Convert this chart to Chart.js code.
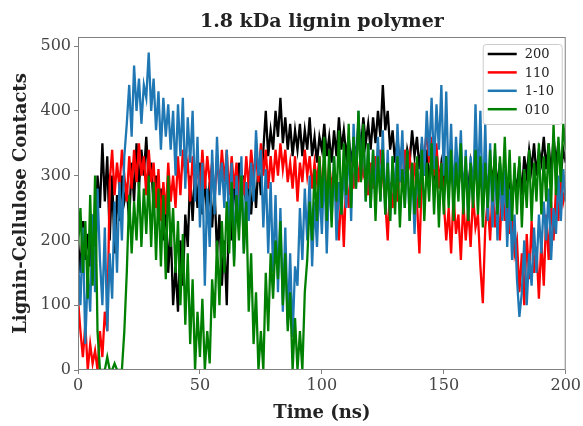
<!DOCTYPE html>
<html>
<head>
<meta charset="utf-8">
<script src="https://cdn.jsdelivr.net/npm/chart.js@4"></script>
<style>
  html, body { margin: 0; padding: 0; background: #fff; }
  #wrap { width: 583px; height: 426px; }
</style>
</head>
<body>
<div id="wrap"><canvas id="contacts-chart"></canvas></div>
<script>
const chartTitle = "1.8 kDa lignin polymer";
const xTicks = [0, 50, 100, 150, 200];
const yTicks = [0, 100, 200, 300, 400, 500];
const seriesLabels = ["200", "110", "1-10", "010"];
const seriesColors = ["#000000", "#ff0000", "#1f77b4", "#008000"];

// one value per ns, t = 0..200
const contacts200 = [
  200,150,230,170,210,160,240,190,300,250,
  350,260,330,200,300,180,270,230,300,260,
  280,230,320,260,350,280,340,300,360,290,
  320,250,300,230,280,200,260,150,220,100,
  160,90,200,130,240,190,300,230,310,250,
  320,240,300,230,290,220,280,180,240,130,
  200,100,260,200,300,240,320,260,300,250,
  290,240,300,250,320,270,340,400,330,370,
  340,400,360,420,350,390,340,380,330,370,
  340,380,330,370,340,390,330,360,320,360,
  340,380,330,360,320,370,330,390,340,370,
  330,360,320,350,330,380,340,390,350,380,
  340,390,350,400,360,440,370,400,340,370,
  320,360,310,350,300,340,320,370,330,360,
  310,350,300,340,290,330,300,340,290,320,
  290,330,280,320,290,330,280,320,290,310,
  280,320,290,330,280,320,270,310,280,320,
  290,330,280,320,250,300,240,290,260,300,
  280,320,270,330,300,340,310,350,300,340,
  320,360,310,350,300,360,320,350,300,340,
  320
];
const contacts110 = [
  110,60,20,70,0,40,10,30,0,60,
  20,90,60,290,340,270,320,280,340,300,
  260,330,280,340,290,350,300,330,270,340,
  290,320,250,310,230,290,240,320,260,300,
  250,330,270,340,300,320,260,330,280,320,
  270,340,280,330,290,320,260,330,280,340,
  290,340,270,330,280,320,260,310,270,330,
  280,340,300,330,290,350,300,340,280,330,
  290,340,300,350,310,340,290,320,280,330,
  260,320,290,340,300,330,280,320,290,330,
  270,330,260,320,280,310,250,200,280,190,
  300,250,320,280,330,290,340,300,310,270,
  320,280,330,290,340,300,260,200,290,250,
  300,260,320,280,340,300,330,290,320,260,
  180,300,330,370,320,360,300,350,280,320,
  260,200,250,180,270,210,240,170,260,200,
  250,190,270,220,240,160,103,220,260,200,
  280,220,260,200,290,230,270,210,240,180,
  200,120,180,100,210,140,230,150,190,110,
  200,130,240,170,260,200,280,230,300,260,
  280
];
const contacts1m10 = [
  170,100,220,40,150,90,240,120,280,170,
  100,220,60,180,110,260,150,290,200,330,
  380,440,360,470,400,450,380,440,420,490,
  400,450,370,430,340,420,360,410,340,400,
  300,410,330,420,280,390,320,400,260,360,
  220,320,130,280,190,340,240,360,270,320,
  250,340,200,320,170,300,220,330,180,290,
  230,320,260,370,300,340,220,310,180,290,
  150,270,120,250,90,220,70,180,51,160,
  130,250,170,280,200,300,160,260,190,290,
  210,320,180,300,230,330,200,290,240,310,
  250,360,230,380,280,400,300,370,260,350,
  250,340,270,360,260,370,240,340,230,330,
  260,380,290,370,250,340,230,320,210,310,
  260,360,300,400,330,420,310,410,340,440,
  300,430,280,380,260,360,290,370,250,340,
  230,330,260,410,280,400,250,380,230,350,
  220,340,200,320,230,310,190,280,170,240,
  140,82,120,200,100,180,130,220,150,240,
  180,260,200,280,170,250,210,300,230,310,
  260
];
const contacts010 = [
  190,250,150,230,110,270,130,300,60,0,
  0,0,20,0,0,10,0,0,0,60,
  150,270,180,260,200,290,190,280,210,300,
  190,290,170,280,160,270,140,300,190,250,
  150,230,100,210,70,180,40,140,0,90,
  20,110,0,60,10,140,80,200,100,230,
  150,260,180,290,160,270,200,300,180,260,
  90,180,40,120,0,60,0,150,60,180,
  110,200,140,230,100,180,60,120,0,80,
  0,60,0,120,170,260,200,310,230,330,
  250,360,230,340,220,330,260,370,240,350,
  270,380,250,360,280,400,290,380,260,350,
  250,340,230,330,260,340,240,320,230,330,
  240,330,220,310,250,340,230,320,240,330,
  250,340,230,320,260,350,240,330,220,320,
  240,330,250,340,230,320,260,350,240,330,
  230,320,250,340,240,330,220,320,250,340,
  260,350,240,330,270,360,250,340,230,320,
  240,330,220,310,250,340,230,320,260,350,
  240,330,260,350,250,380,270,360,290,380,
  340
];

const seriesValues = [contacts200, contacts110, contacts1m10, contacts010];
const timeNs = contacts200.map((_, i) => i);

const serif = "'DejaVu Serif', 'Liberation Serif', serif";

const framePlugin = {
  id: "frame",
  afterDatasetsDraw(chart) {
    const { ctx, chartArea: a } = chart;
    ctx.save();
    ctx.strokeStyle = "#808080";
    ctx.lineWidth = 1;
    ctx.strokeRect(a.left + 0.5, a.top + 0.5, a.right - a.left - 1, a.bottom - a.top - 1);
    ctx.restore();
  }
};

const titlePlugin = {
  id: "topTitle",
  afterDraw(chart) {
    const { ctx, chartArea: a } = chart;
    ctx.save();
    ctx.font = "bold 19px " + serif;
    ctx.fillStyle = "#222";
    ctx.textAlign = "center";
    ctx.textBaseline = "alphabetic";
    ctx.fillText(chartTitle, (a.left + a.right) / 2, 27);
    ctx.restore();
  }
};

const legendBoxPlugin = {
  id: "legendBox",
  afterDatasetsDraw(chart) {
    const { ctx, chartArea: a } = chart;
    const left = a.right - 83, top = a.top + 7, w = 79, h = 80;
    ctx.save();
    ctx.fillStyle = "rgba(255,255,255,0.85)";
    ctx.strokeStyle = "#cccccc";
    ctx.lineWidth = 1;
    ctx.beginPath();
    ctx.roundRect(left + 0.5, top + 0.5, w, h, 3);
    ctx.fill();
    ctx.stroke();
    ctx.font = "13px " + serif;
    ctx.textBaseline = "middle";
    chart.data.datasets.forEach((ds, i) => {
      const y = top + 10 + i * 18.4;
      ctx.strokeStyle = ds.borderColor;
      ctx.lineWidth = 2.5;
      ctx.beginPath();
      ctx.moveTo(left + 5, y);
      ctx.lineTo(left + 34, y);
      ctx.stroke();
      ctx.fillStyle = "#222";
      ctx.fillText(ds.label, left + 42, y + 1);
    });
    ctx.restore();
  }
};

const chartElement = document.getElementById("contacts-chart");

new Chart(chartElement, {
  type: "line",
  data: {
    datasets: seriesLabels.map((label, i) => ({
      label: label,
      data: seriesValues[i].map((v, j) => ({ x: timeNs[j], y: v })),
      borderColor: seriesColors[i],
      backgroundColor: seriesColors[i],
      borderWidth: 2.3,
      pointRadius: 0,
      tension: 0,
      fill: false,
      order: seriesLabels.length - i
    }))
  },
  options: {
    responsive: true,
    maintainAspectRatio: false,
    animation: false,
    layout: { padding: { top: 37, right: 17, left: 0, bottom: 0 } },
    scales: {
      x: {
        type: "linear",
        min: 0,
        max: 200,
        afterBuildTicks: (scale) => { scale.ticks = xTicks.map(v => ({ value: v })); },
        afterFit: (scale) => { scale.height = 56; },
        grid: { drawOnChartArea: false, drawTicks: true, tickLength: 4, color: "#808080" },
        border: { display: false },
        ticks: { color: "#444", font: { family: serif, size: 16 }, padding: 2, maxRotation: 0 },
        title: {
          display: true,
          text: "Time (ns)",
          color: "#222",
          font: { family: serif, size: 18, weight: "bold" },
          padding: { top: 0, bottom: 2 }
        }
      },
      y: {
        min: 0,
        max: 514,
        afterBuildTicks: (scale) => { scale.ticks = yTicks.map(v => ({ value: v })); },
        afterFit: (scale) => { scale.width = 78; },
        grid: { drawOnChartArea: false, drawTicks: true, tickLength: 4, color: "#808080" },
        border: { display: false },
        ticks: { color: "#444", font: { family: serif, size: 16 }, padding: 3 },
        title: {
          display: true,
          text: "Lignin-Cellulose Contacts",
          color: "#222",
          font: { family: serif, size: 18, weight: "bold" },
          padding: { top: 11, bottom: 4 }
        }
      }
    },
    plugins: {
      legend: { display: false },
      title: { display: false },
      tooltip: { enabled: false }
    }
  },
  plugins: [framePlugin, titlePlugin, legendBoxPlugin]
});
</script>
</body>
</html>
